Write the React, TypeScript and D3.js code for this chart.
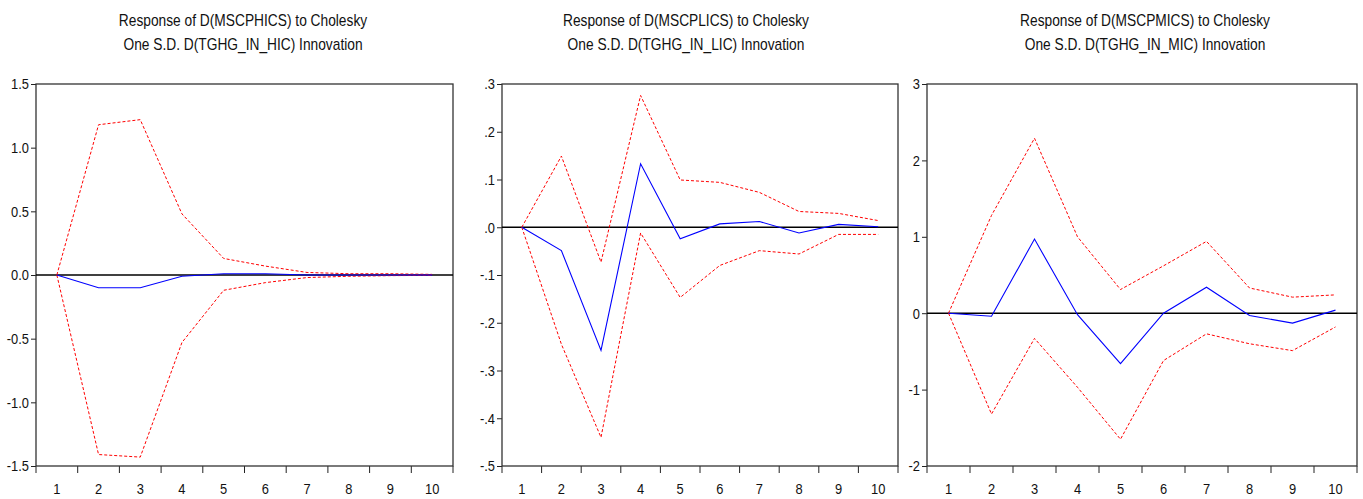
import React, { useRef, useEffect } from "react";
import * as d3 from "d3";

const periods = [1, 2, 3, 4, 5, 6, 7, 8, 9, 10];

// panel 1: D(MSCPHICS) <- D(TGHG_IN_HIC)
const hicResponse = [0, -0.1, -0.1, -0.01, 0.01, 0.01, 0.0, 0.0, 0.0, 0.0];
const hicUpper = [0, 1.18, 1.22, 0.48, 0.13, 0.07, 0.02, 0.01, 0.01, 0.005];
const hicLower = [0, -1.41, -1.43, -0.53, -0.12, -0.06, -0.02, -0.01, -0.005, -0.003];

// panel 2: D(MSCPLICS) <- D(TGHG_IN_LIC)
const licResponse = [0, -0.049, -0.258, 0.133, -0.024, 0.007, 0.012, -0.012, 0.006, 0.001];
const licUpper = [0, 0.149, -0.073, 0.276, 0.099, 0.094, 0.073, 0.033, 0.029, 0.014];
const licLower = [0, -0.245, -0.44, -0.012, -0.147, -0.08, -0.049, -0.056, -0.015, -0.015];

// panel 3: D(MSCPMICS) <- D(TGHG_IN_MIC)
const micResponse = [0, -0.04, 0.97, -0.02, -0.66, 0.0, 0.34, -0.03, -0.13, 0.04];
const micUpper = [0, 1.28, 2.29, 1.0, 0.31, 0.62, 0.94, 0.33, 0.21, 0.24];
const micLower = [0, -1.32, -0.33, -0.97, -1.65, -0.62, -0.27, -0.4, -0.49, -0.18];

const hicTicks = [-1.5, -1.0, -0.5, 0.0, 0.5, 1.0, 1.5];
const hicTickLabels = ["-1.5", "-1.0", "-0.5", "0.0", "0.5", "1.0", "1.5"];
const licTicks = [-0.5, -0.4, -0.3, -0.2, -0.1, 0.0, 0.1, 0.2, 0.3];
const licTickLabels = ["-.5", "-.4", "-.3", "-.2", "-.1", ".0", ".1", ".2", ".3"];
const micTicks = [-2, -1, 0, 1, 2, 3];
const micTickLabels = ["-2", "-1", "0", "1", "2", "3"];

const titles = [
  ["Response of D(MSCPHICS) to Cholesky", "One S.D. D(TGHG_IN_HIC) Innovation"],
  ["Response of D(MSCPLICS) to Cholesky", "One S.D. D(TGHG_IN_LIC) Innovation"],
  ["Response of D(MSCPMICS) to Cholesky", "One S.D. D(TGHG_IN_MIC) Innovation"],
];

const panels = [
  { left: 36, right: 453, domain: [-1.5, 1.5], ticks: hicTicks, labels: hicTickLabels,
    response: hicResponse, upper: hicUpper, lower: hicLower, title: titles[0], titleX: 243 },
  { left: 502, right: 898, domain: [-0.5, 0.3], ticks: licTicks, labels: licTickLabels,
    response: licResponse, upper: licUpper, lower: licLower, title: titles[1], titleX: 686 },
  { left: 927, right: 1357, domain: [-2, 3], ticks: micTicks, labels: micTickLabels,
    response: micResponse, upper: micUpper, lower: micLower, title: titles[2], titleX: 1145 },
];

const W = 1363, H = 499;
const top = 84, bottom = 466;
const font = "'Liberation Sans', Arial, sans-serif";
const squeeze = 0.86; // narrow look of the original font

const App = () => {
  const ref = useRef<SVGSVGElement>(null);

  useEffect(() => {
    const svg = d3.select(ref.current);
    svg.selectAll("*").remove();

    panels.forEach((p) => {
      const g = svg.append("g");

      const x = d3.scaleBand<number>().domain(periods).range([p.left, p.right]);
      const y = d3.scaleLinear().domain(p.domain).range([bottom, top]);
      const cx = (i: number) => (x(periods[i]) as number) + x.bandwidth() / 2;

      // title
      p.title.forEach((t, k) => {
        g.append("text")
          .attr("transform", `translate(${p.titleX},${26 + k * 24}) scale(${squeeze},1)`)
          .attr("text-anchor", "middle")
          .style("font-family", font)
          .style("font-size", "16px")
          .attr("fill", "#111")
          .text(t);
      });

      // y axis
      const yAxis = d3
        .axisLeft(y)
        .tickValues(p.ticks)
        .tickFormat((_, i) => p.labels[i])
        .tickSize(5)
        .tickPadding(2);
      const ya = g.append("g").attr("transform", `translate(${p.left},0)`).call(yAxis);
      ya.select(".domain").remove();
      ya.selectAll("line").attr("stroke", "#222");
      ya.selectAll("text")
        .attr("x", null)
        .attr("transform", `translate(-7,0) scale(${squeeze},1)`)
        .style("font-family", font)
        .style("font-size", "15px")
        .attr("fill", "#111");

      // x axis: ticks at band edges, labels at centers
      const edges = periods.map((d) => x(d) as number).concat([p.right]);
      g.selectAll(".xt")
        .data(edges)
        .join("line")
        .attr("x1", (d) => d)
        .attr("x2", (d) => d)
        .attr("y1", bottom)
        .attr("y2", bottom + 7)
        .attr("stroke", "#222");
      g.selectAll(".xl")
        .data(periods)
        .join("text")
        .attr("transform", (d, i) => `translate(${cx(i)},494) scale(${squeeze},1)`)
        .attr("text-anchor", "middle")
        .style("font-family", font)
        .style("font-size", "15px")
        .attr("fill", "#111")
        .text((d) => d);

      // frame
      g.append("rect")
        .attr("x", p.left)
        .attr("y", top)
        .attr("width", p.right - p.left)
        .attr("height", bottom - top)
        .attr("fill", "none")
        .attr("stroke", "#333")
        .attr("stroke-width", 1.3);

      // zero line
      g.append("line")
        .attr("x1", p.left)
        .attr("x2", p.right)
        .attr("y1", y(0))
        .attr("y2", y(0))
        .attr("stroke", "#000")
        .attr("stroke-width", 1.5);

      const line = d3
        .line<number>()
        .x((_, i) => cx(i))
        .y((d) => y(d));

      [p.upper, p.lower].forEach((band) => {
        g.append("path")
          .datum(band)
          .attr("fill", "none")
          .attr("stroke", "#ff0000")
          .attr("stroke-width", 1)
          .attr("stroke-dasharray", "3,2")
          .attr("d", line);
      });

      g.append("path")
        .datum(p.response)
        .attr("fill", "none")
        .attr("stroke", "#0000ff")
        .attr("stroke-width", 1.1)
        .attr("d", line);
    });
  }, []);

  return <svg ref={ref} width={W} height={H} style={{ display: "block", position: "absolute", left: 0, top: 0 }} />;
};

export default App;
